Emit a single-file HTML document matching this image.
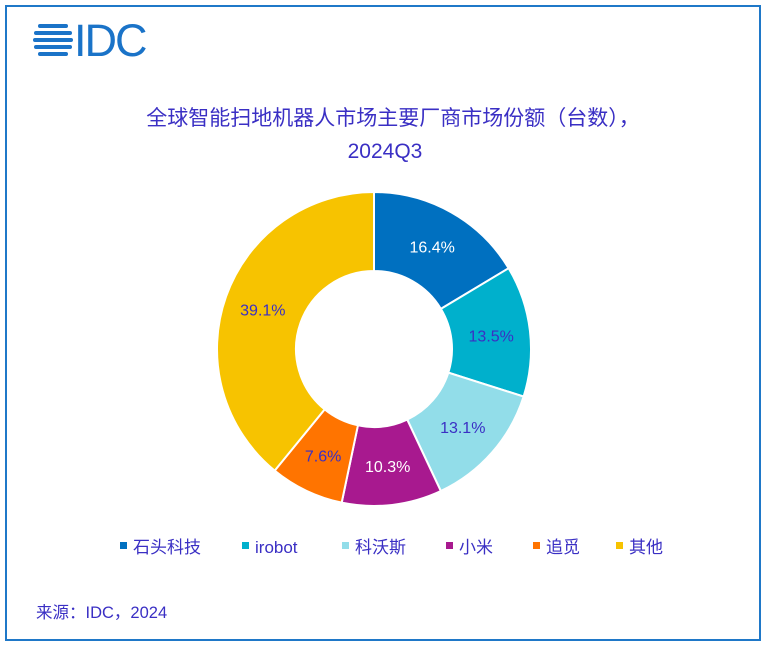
<!DOCTYPE html>
<html><head><meta charset="utf-8"><style>
body{margin:0;background:#fff;}
#frame{position:absolute;left:5px;top:5px;width:752px;height:632px;border:2px solid #1f78c8;}
.t{font-family:"Liberation Sans","Noto Sans CJK SC",sans-serif;fill:#3a2fc4;}
</style></head><body>
<div id="frame"></div>
<svg id="svg" width="764" height="645" style="position:absolute;left:0;top:0">
<g>
<g fill="#1a73c8">
<rect x="38" y="24" width="30" height="4" rx="2"/><rect x="34" y="31" width="38" height="4" rx="2"/>
<rect x="33" y="38" width="40" height="4" rx="2"/><rect x="34" y="45" width="38" height="4" rx="2"/>
<rect x="38" y="52" width="30" height="4" rx="2"/>
</g>
<text x="74" y="56" font-family="Liberation Sans,sans-serif" font-size="45" fill="#1a73c8" letter-spacing="-2">IDC</text>
</g>
<text class="t" x="393" y="125" font-size="21" text-anchor="middle">全球智能扫地机器人市场主要厂商市场份额（台数），</text>
<text class="t" x="385" y="158" font-size="21" text-anchor="middle">2024Q3</text>
<g id="pie"></g>
<g id="legend"></g>
<text class="t" x="36" y="618" font-size="16.5">来源：IDC，2024</text>
</svg>
<script>
const categories=["石头科技","irobot","科沃斯","小米","追觅","其他"];
const values=[16.4,13.5,13.1,10.3,7.6,39.1];
const colors=["#0070c0","#00b0cc","#92dde9","#a8198f","#ff7400","#f7c300"];
const labelColors=["#ffffff","#3a2fc4","#3a2fc4","#ffffff","#3a2fc4","#3a2fc4"];
const NS="http://www.w3.org/2000/svg";
const cx=374,cy=349,R=157,r=78;
const pie=document.getElementById('pie');
const total=values.reduce((a,b)=>a+b,0);
let a0=-Math.PI/2;
const pt=(rad,a)=>[cx+rad*Math.cos(a),cy+rad*Math.sin(a)];
values.forEach((v,i)=>{
 const a1=a0+v/total*2*Math.PI;
 const lg=(a1-a0)>Math.PI?1:0;
 const [x0,y0]=pt(R,a0),[x1,y1]=pt(R,a1),[x2,y2]=pt(r,a1),[x3,y3]=pt(r,a0);
 const p=document.createElementNS(NS,'path');
 p.setAttribute('d',`M${x0},${y0}A${R},${R} 0 ${lg} 1 ${x1},${y1}L${x2},${y2}A${r},${r} 0 ${lg} 0 ${x3},${y3}Z`);
 p.setAttribute('fill',colors[i]);p.setAttribute('stroke','#fff');p.setAttribute('stroke-width','2');
 
 
 pie.appendChild(p);
 const am=(a0+a1)/2;const [lx,ly]=pt(118,am);
 const t=document.createElementNS(NS,'text');
 t.setAttribute('x',lx);t.setAttribute('y',ly+6);t.setAttribute('text-anchor','middle');
 t.setAttribute('font-family','Liberation Sans,sans-serif');t.setAttribute('font-size','16');
 t.setAttribute('fill',labelColors[i]);
 t.textContent=v.toFixed(1)+'%';
 
 
 pie.appendChild(t);
 a0=a1;
});
const lx=[120,242,342,446,533,616];
const leg=document.getElementById('legend');
categories.forEach((c,i)=>{
 const g=document.createElementNS(NS,'g');
 
 
 const s=document.createElementNS(NS,'rect');
 s.setAttribute('x',lx[i]);s.setAttribute('y',542);s.setAttribute('width',7);s.setAttribute('height',7);s.setAttribute('fill',colors[i]);
 const t=document.createElementNS(NS,'text');
 t.setAttribute('x',lx[i]+13);t.setAttribute('y',553);t.setAttribute('class','t');t.setAttribute('font-size','17');
 t.textContent=c;
 g.appendChild(s);g.appendChild(t);leg.appendChild(g);
});
</script>
</body></html>
